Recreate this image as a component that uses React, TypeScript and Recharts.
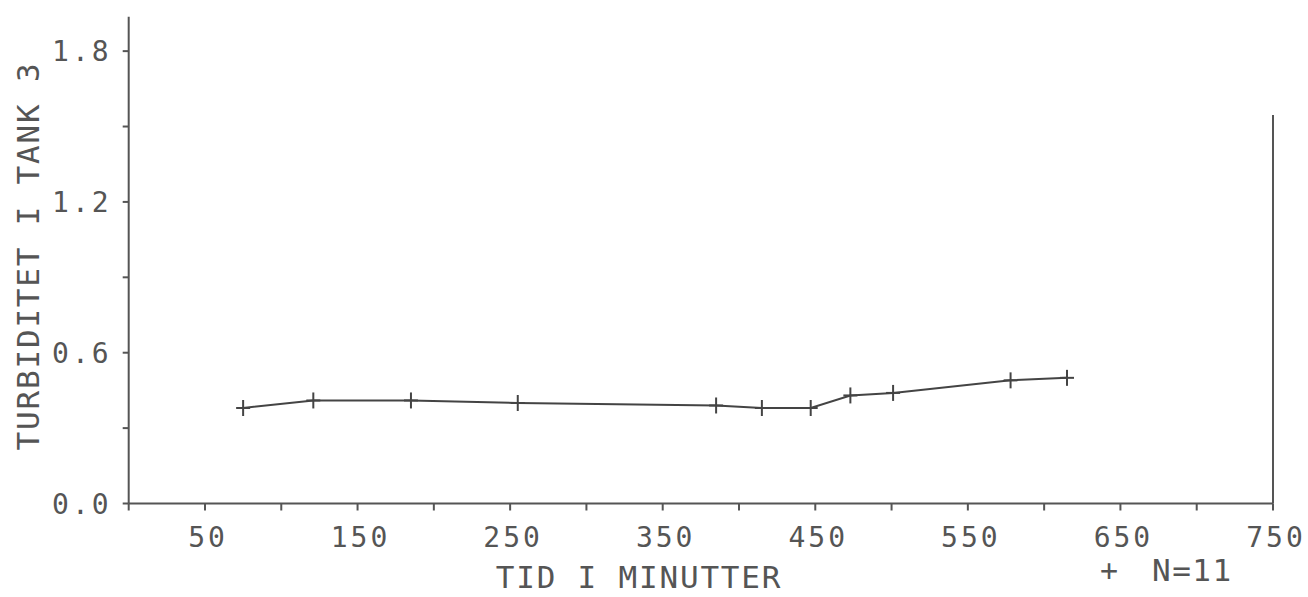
import { LineChart, Line, XAxis, YAxis, ReferenceLine, Customized } from 'recharts'

// sample times (minutes) and turbidity readings, tank 3
const times = [75, 121, 185, 255, 385, 415, 447, 473, 501, 578, 615]
const turbidity = [0.38, 0.41, 0.41, 0.4, 0.39, 0.38, 0.38, 0.43, 0.44, 0.49, 0.5]

const xTicks = [0, 50, 100, 150, 200, 250, 300, 350, 400, 450, 500, 550, 600, 650, 700, 750]
const xLabels = [50, 150, 250, 350, 450, 550, 650, 750]
const yTicks = [0, 0.3, 0.6, 0.9, 1.2, 1.5, 1.8]
const yLabels = [0, 0.6, 1.2, 1.8]

const data = times.map((t, i) => ({ t, v: turbidity[i] }))

const INK = '#555'
const FONT = '"DejaVu Sans Mono", monospace'

// eslint-disable-next-line @typescript-eslint/no-explicit-any
const PlusDot = (props: any) => {
  const { cx, cy } = props
  if (cx == null || cy == null) return null
  return (
    <g stroke="#444" strokeWidth={2}>
      <line x1={cx - 7} y1={cy} x2={cx + 7} y2={cy} />
      <line x1={cx} y1={cy - 8} x2={cx} y2={cy + 8} />
    </g>
  )
}

// eslint-disable-next-line @typescript-eslint/no-explicit-any
const XTick = (props: any) => {
  const { x, y, payload } = props
  if (!xLabels.includes(payload.value)) return null
  return (
    <text x={x + 3} y={y + 36} textAnchor="middle" fill={INK} fontFamily={FONT} fontSize={28} letterSpacing={3}>
      {payload.value}
    </text>
  )
}

// eslint-disable-next-line @typescript-eslint/no-explicit-any
const YTick = (props: any) => {
  const { x, y, payload } = props
  if (!yLabels.some((l) => Math.abs(l - payload.value) < 1e-6)) return null
  return (
    <text x={x + 3} y={y + 10} textAnchor="end" fill={INK} fontFamily={FONT} fontSize={28} letterSpacing={3}>
      {payload.value.toFixed(1)}
    </text>
  )
}

const Titles = () => (
  <g fill={INK} fontFamily={FONT}>
    <text x={639} y={588} textAnchor="middle" fontSize={31} letterSpacing={1.8}>
      TID I MINUTTER
    </text>
    <text transform="translate(39,256) rotate(-90)" textAnchor="middle" fontSize={31} letterSpacing={1.8}>
      TURBIDITET I TANK 3
    </text>
    <text x={1100} y={581} fontSize={30}>+</text>
    <text x={1152} y={581} fontSize={31} letterSpacing={1.5}>N=11</text>
  </g>
)

export default function App() {
  return (
    <div style={{ position: 'absolute', left: 0, top: 0, background: '#fff' }}>
      <LineChart width={1308} height={597} data={data} margin={{ top: 16.7, right: 35, bottom: 33.5, left: 28.7 }}>
        <XAxis
          dataKey="t"
          type="number"
          domain={[0, 750]}
          ticks={xTicks}
          interval={0}
          height={60}
          tick={<XTick />}
          tickSize={7}
          tickMargin={0}
          stroke={INK}
          axisLine={{ stroke: INK, strokeWidth: 2 }}
          tickLine={{ stroke: INK, strokeWidth: 2 }}
        />
        <YAxis
          type="number"
          domain={[0, 1.937]}
          ticks={yTicks}
          interval={0}
          width={100}
          tick={<YTick />}
          tickSize={6}
          tickMargin={14}
          stroke={INK}
          axisLine={{ stroke: INK, strokeWidth: 2 }}
          tickLine={{ stroke: INK, strokeWidth: 2 }}
        />
        <ReferenceLine
          segment={[{ x: 750, y: 0 }, { x: 750, y: 1.546 }]}
          stroke={INK}
          strokeWidth={2}
          ifOverflow="visible"
        />
        <Line
          dataKey="v"
          type="linear"
          stroke="#444"
          strokeWidth={2}
          dot={<PlusDot />}
          activeDot={false}
          isAnimationActive={false}
        />
        <Customized component={Titles} />
      </LineChart>
    </div>
  )
}
